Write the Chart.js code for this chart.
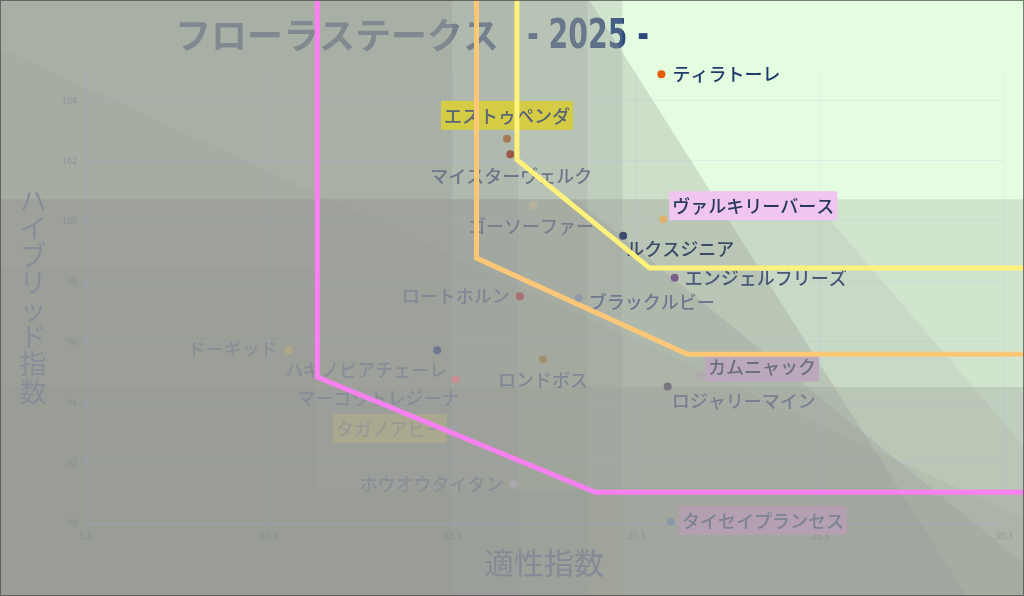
<!DOCTYPE html>
<html>
<head>
<meta charset="utf-8">
<script src="https://cdn.jsdelivr.net/npm/chart.js@4/dist/chart.umd.min.js"></script>
<style>
  html, body { margin: 0; padding: 0; background: #e4fde0; overflow: hidden; }
  canvas { display: block; }
</style>
</head>
<body>
<canvas id="chart" width="1024" height="596"></canvas>
<script>
// horses
const horses = [
  "ティラトーレ", "エストゥペンダ", "マイスターヴェルク", "ゴーソーファー",
  "ヴァルキリーバース", "ルクスジニア", "エンジェルフリーズ", "ロートホルン",
  "ブラックルビー", "ドーギッド", "ハギノピアチェーレ", "マーゴットレジーナ",
  "タガノアビー", "ホウオウタイタン", "ロンドボス", "カムニャック",
  "ロジャリーマイン", "タイセイプランセス",
];
const aptitude = [20.98, 16.78, 16.87, 17.49, 21.03, 19.94, 21.34, 17.13, 18.73,
  10.84, 14.88, 15.38, 15.33, 16.96, 17.76, 22.03, 21.15, 21.24];
const hybrid = [104.86, 102.72, 102.21, 100.51, 100.06, 99.51, 98.12, 97.51, 97.45,
  95.72, 95.72, 94.75, 93.11, 91.28, 95.41, 94.88, 94.52, 90.04];

const xTickValues = [5.3, 10.3, 15.3, 20.3, 25.3, 30.3];
const yTickValues = [90, 92, 94, 96, 98, 100, 102, 104];

// zone borders
const magentaX = [11.62, 11.62, 19.19, 32];
const magentaY = [108, 94.83, 91.02, 91.02];
const orangeX = [15.95, 15.95, 21.69, 32];
const orangeY = [108, 98.77, 95.59, 95.59];
const yellowX = [17.05, 17.05, 20.66, 32];
const yellowY = [108, 102.03, 98.44, 98.44];

// styles
const dotColors = ["#e65c0a", "#a87850", "#9a5848", "#b8b29a", "#e0b070", "#404a70",
  "#7a6088", "#a87070", "#9098ac", "#b0a888", "#707890", "#c89090", "#a0a0a8",
  "#a8a8b0", "#a09070", "#b0a8b0", "#787480", "#8898a8"];
const textColors = ["#1e3a6a", "#5a6478", "#6e7688", "#788090", "#2a3a5e", "#3e4a68",
  "#4a5878", "#808896", "#6e7890", "#8a8e96", "#888c96", "#888c96", "#989a96",
  "#8a8e96", "#808896", "#6a7080", "#7a8090", "#7c8494"];
const boxColors = [null, "#d4cc44", null, null, "#f0c6f0", null, null, null, null,
  null, null, null, "#aaa88e", null, null, "#bca8bc", null, "#b4a0b0"];
// [dx, dy, align] of each label from its dot
const labelPlace = [
  [11, 0, "left"], [0, -23, "center"], [1, 22, "center"], [-2, 21, "center"],
  [9, -13, "left"], [3, 13, "left"], [10, 0, "left"], [-10, 0, "right"],
  [10, 4, "left"], [-11, -1, "right"], [10, 20, "right"], [4, 19, "right"],
  [-10, 0, "right"], [-10, 0, "right"], [0, 21, "center"], [8, -8, "left"],
  [4, 15, "left"], [11, -1, "left"],
];

// background shading: half planes (to the lower left of a line), in data units
const shades = [
  { a: [19.92, 80], b: [19.92, 120], alpha: 0.25 },
  { a: [19.02, 107.31], b: [29.29, 87.58], alpha: 0.3 },
  { a: [0, 100.72], b: [40, 100.72], alpha: 0.25 },
  { a: [0, 94.5], b: [40, 94.5], alpha: 0.3 },
  { a: [0, 91.1], b: [40, 91.1], alpha: 0.3 },
  { a: [18.97, 80], b: [18.97, 120], alpha: 0.2 },
  { a: [17.09, 80], b: [17.09, 120], alpha: 0.25 },
  { a: [15.29, 80], b: [15.29, 120], alpha: 0.3 },
  { a: [11.57, 80], b: [11.57, 120], alpha: 0.3, below: 98.44 },
  { a: [3.0, 105.72], b: [30.86, 90.13], alpha: 0.15 },
  { a: [22.94, 96.48], b: [30.84, 88.67], alpha: 0.3, below: 100.72 },
  { a: [24.41, 101.68], b: [30.86, 92.51], alpha: 0.15, below: 100.72 },
];

const JP = '"Noto Sans CJK JP", "Noto Sans", sans-serif';
Chart.defaults.font.family = JP;

function px(chart, x, y) {
  return [chart.scales.x.getPixelForValue(x), chart.scales.y.getPixelForValue(y)];
}

function shadeHalf(ctx, chart, s) {
  const A = px(chart, s.a[0], s.a[1]);
  const B = px(chart, s.b[0], s.b[1]);
  let dx = B[0] - A[0], dy = B[1] - A[1];
  const len = Math.hypot(dx, dy);
  dx /= len; dy /= len;
  let nx = -dy, ny = dx;
  if (nx * (0 - A[0]) + ny * (chart.height - A[1]) < 0) { nx = -nx; ny = -ny; }
  const F = 4000;
  ctx.save();
  if (s.below !== undefined) {
    const cy = chart.scales.y.getPixelForValue(s.below);
    ctx.beginPath();
    ctx.rect(0, cy, chart.width, chart.height - cy);
    ctx.clip();
  }
  ctx.beginPath();
  ctx.moveTo(A[0] - dx * F, A[1] - dy * F);
  ctx.lineTo(A[0] + dx * F, A[1] + dy * F);
  ctx.lineTo(A[0] + dx * F + nx * F, A[1] + dy * F + ny * F);
  ctx.lineTo(A[0] - dx * F + nx * F, A[1] - dy * F + ny * F);
  ctx.closePath();
  ctx.fillStyle = `rgba(152,154,150,${s.alpha})`;
  ctx.fill();
  ctx.restore();
}

const backdrop = {
  id: "backdrop",
  beforeDraw(chart) {
    const ctx = chart.ctx;
    ctx.save();
    ctx.fillStyle = "#e4fde0";
    ctx.fillRect(0, 0, chart.width, chart.height);
    ctx.fillStyle = "#2a4a7c";
    ctx.textBaseline = "middle";
    ctx.font = `bold 36px ${JP}`;
    ctx.fillText("フローラステークス", 175, 35);
    // the year is set in a narrow face: squeeze it into its width
    ctx.textBaseline = "alphabetic";
    ctx.font = 'bold 40px "Liberation Sans Narrow", "DejaVu Sans Condensed", "DejaVu Sans", sans-serif';
    const yw = ctx.measureText("- 2025 -").width;
    ctx.translate(527, 48);
    ctx.scale(122 / yw, 1);
    ctx.fillText("- 2025 -", 0, 0);
    ctx.restore();
    shades.forEach(s => shadeHalf(ctx, chart, s));

    // axis titles
    ctx.save();
    ctx.fillStyle = "#878e9a";
    ctx.textAlign = "center";
    ctx.textBaseline = "middle";
    ctx.font = `27px ${JP}`;
    Array.from("ハイブリッド指数").forEach((ch, i) => ctx.fillText(ch, 33, 201 + i * 27.2));
    ctx.fillStyle = "#848a96";
    ctx.font = `30px ${JP}`;
    ctx.fillText("適性指数", 544, 563);
    ctx.restore();
  },
  afterDatasetDraw(chart, args) {
    if (args.index !== 0) return;
    const ctx = chart.ctx;
    ctx.save();
    ctx.font = `500 18px ${JP}`;
    ctx.textBaseline = "middle";
    horses.forEach((name, i) => {
      const [x, y] = px(chart, aptitude[i], hybrid[i]);
      const [dx, dy, align] = labelPlace[i];
      const tx = x + dx, ty = y + dy;
      const w = ctx.measureText(name).width;
      let left = align === "left" ? tx : align === "right" ? tx - w : tx - w / 2;
      if (boxColors[i]) {
        ctx.fillStyle = boxColors[i];
        ctx.fillRect(left - 3, ty - 15, w + 6, 29);
      }
      ctx.fillStyle = textColors[i];
      ctx.textAlign = "left";
      ctx.fillText(name, left, ty);
    });
    ctx.restore();
  },
  afterDraw(chart) {
    const ctx = chart.ctx;
    ctx.save();
    ctx.strokeStyle = "rgba(70,70,70,0.7)";
    ctx.lineWidth = 1;
    ctx.strokeRect(0.5, 0.5, chart.width - 1, chart.height - 1);
    ctx.restore();
  },
};

function border(xs, ys, color) {
  return {
    type: "line",
    data: xs.map((x, i) => ({ x: x, y: ys[i] })),
    borderColor: color,
    borderWidth: 5,
    pointRadius: 0,
    tension: 0,
    fill: false,
    clip: false,
    order: 1,
  };
}

const gridColor = "rgba(170,170,255,0.16)";
const tickColor = "rgba(110,120,150,0.45)";

new Chart(document.getElementById("chart").getContext("2d"), {
  type: "scatter",
  data: {
    datasets: [
      {
        data: horses.map((h, i) => ({ x: aptitude[i], y: hybrid[i] })),
        pointRadius: 4,
        pointBackgroundColor: dotColors,
        pointBorderWidth: 0,
        clip: false,
        order: 2,
      },
      border(magentaX, magentaY, "#f880f0"),
      border(orangeX, orangeY, "#fcc878"),
      border(yellowX, yellowY, "#fff27c"),
    ],
  },
  options: {
    responsive: false,
    devicePixelRatio: 1,
    animation: false,
    events: [],
    layout: { padding: { top: 73, right: 20, left: 0, bottom: 0 } },
    plugins: { legend: { display: false }, tooltip: { enabled: false } },
    scales: {
      x: {
        type: "linear",
        min: 5.3,
        max: 30.3,
        afterBuildTicks: s => { s.ticks = xTickValues.map(v => ({ value: v })); },
        afterFit: s => { s.height = 73; },
        grid: { color: gridColor, drawTicks: false },
        border: { color: gridColor },
        ticks: { color: tickColor, font: { size: 9 }, padding: 7, callback: v => v.toFixed(1) },
      },
      y: {
        type: "linear",
        min: 90,
        max: 104.9,
        afterBuildTicks: s => { s.ticks = yTickValues.map(v => ({ value: v })); },
        afterFit: s => { s.width = 85; },
        grid: { color: gridColor, drawTicks: false },
        border: { color: gridColor },
        ticks: { color: tickColor, font: { size: 9 }, padding: 8 },
      },
    },
  },
  plugins: [backdrop],
});
</script>
</body>
</html>
